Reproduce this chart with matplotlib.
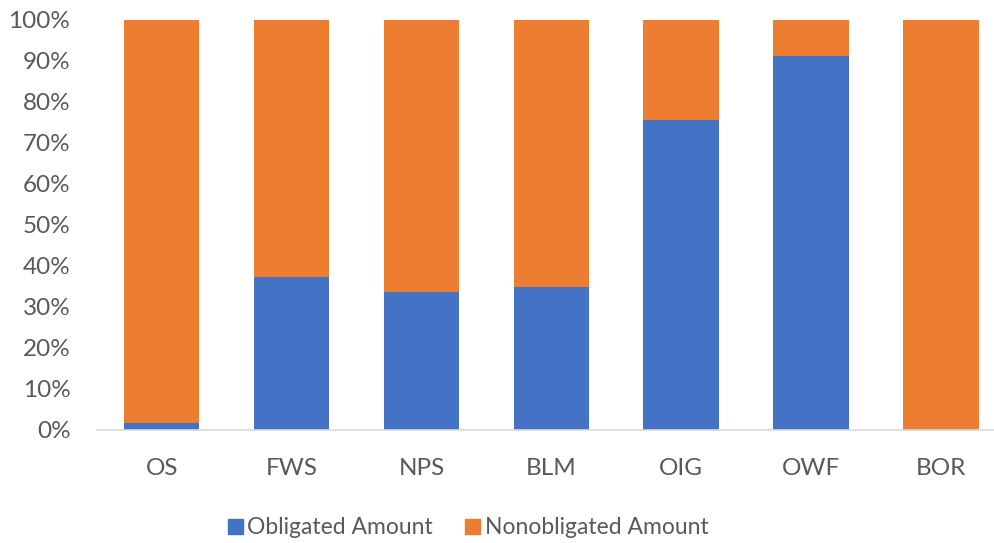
import matplotlib
matplotlib.use("Agg")
import matplotlib.pyplot as plt
from matplotlib.ticker import FuncFormatter, MultipleLocator
from matplotlib.patches import Patch

categories = ["OS", "FWS", "NPS", "BLM", "OIG", "OWF", "BOR"]
obligated = [1.6, 37.3, 33.7, 34.8, 75.5, 91.0, 0.0]
nonobligated = [100 - v for v in obligated]

blue = "#4472C4"
orange = "#ED7D31"
gray = "#595959"

plt.rcParams['font.family'] = ['Lato', 'DejaVu Sans']

fig = plt.figure(figsize=(9.95, 5.43), dpi=100)
W, H = 995, 543
ax = fig.add_axes([96.8 / W, 1 - 430 / H, (1005.8 - 96.8) / W, (430 - 19.5) / H])

x = range(len(categories))
ax.bar(x, obligated, width=0.58, color=blue, label="Obligated Amount")
ax.bar(x, nonobligated, width=0.58, bottom=obligated, color=orange, label="Nonobligated Amount")

ax.set_xlim(-0.5, len(categories) - 0.5)
ax.set_ylim(0, 100)
ax.yaxis.set_major_locator(MultipleLocator(10))
ax.yaxis.set_major_formatter(FuncFormatter(lambda v, p: f"{int(round(v))}%"))
ax.set_xticks(list(x))
ax.set_xticklabels(categories)

for s in ["top", "right", "left"]:
    ax.spines[s].set_visible(False)
ax.spines["bottom"].set_color("#D9D9D9")
ax.spines["bottom"].set_linewidth(1.2)
ax.tick_params(axis="both", length=0, labelsize=17.5, colors=gray)
ax.tick_params(axis="y", pad=19)
ax.tick_params(axis="x", pad=20)

handles = [Patch(color=blue), Patch(color=orange)]
fig.legend(handles, ["Obligated Amount", "Nonobligated Amount"], loc="center",
           bbox_to_anchor=(468 / W, 1 - 528 / H), ncol=2, frameon=False,
           fontsize=16.5, labelcolor=gray, handlelength=0.65, handleheight=0.65,
           handletextpad=0.2, columnspacing=1.4)

fig.savefig("out.png", dpi=100)
